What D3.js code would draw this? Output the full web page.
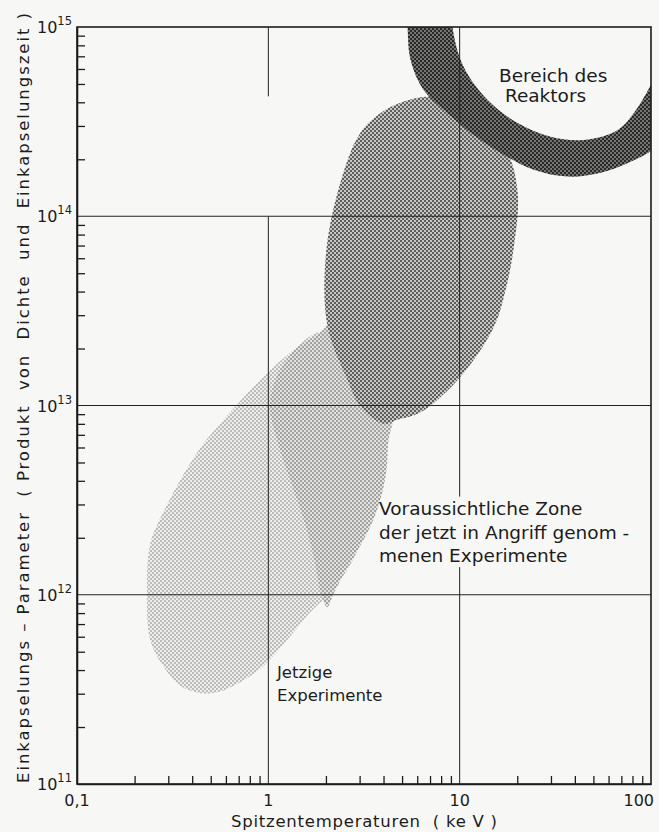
<!DOCTYPE html>
<html>
<head>
<meta charset="utf-8">
<script src="https://cdn.jsdelivr.net/npm/d3@7"></script>
<style>
  body { margin: 0; background: #f7f7f5; }
  svg { display: block; }
  text { font-family: "DejaVu Sans", sans-serif; fill: #1c1c1c; white-space: pre; }
</style>
</head>
<body>
<svg id="chart" width="659" height="832"></svg>
<script>
// axis values
const xMajor = [0.1, 1, 10, 100];
const xMajorLabels = ["0,1", "1", "10", "100"];
const yMajor = [1e11, 1e12, 1e13, 1e14, 1e15];
const yExponents = ["11", "12", "13", "14", "15"];
const minorSteps = [2, 3, 4, 5, 6, 7, 8, 9];
const hGrid = [1e12, 1e13, 1e14];
// vertical grid lines [keV, from, to] (they are broken in the original)
const vGrid = [[1, 1e11, 1e14], [1, 4.3e14, 1e15], [10, 1e11, 1.4e12], [10, 3.3e12, 1e15]];

// zones, [keV, n*tau]
const jetzigeZone = [
  [0.441, 3.02e11], [0.541, 3.05e11], [0.713, 3.45e11], [0.942, 4.2e11], [1.26, 5.8e11],
  [1.66, 8.1e11], [2.11, 1.03e12], [2.69, 1.45e12], [3.22, 2.2e12], [3.63, 4.1e12],
  [3.42, 8.4e12], [2.69, 1.75e13], [2.11, 2.37e13], [1.81, 2.43e13], [1.30, 1.9e13],
  [0.942, 1.42e13], [0.632, 9.2e12], [0.425, 5.65e12], [0.282, 2.72e12], [0.241, 1.85e12],
  [0.232, 1.03e12], [0.241, 5.8e11], [0.282, 4.2e11], [0.346, 3.3e11]
];
const voraussichtZone = [
  [2.03, 8.6e11], [2.19, 1.01e12], [2.47, 1.28e12], [2.85, 1.64e12], [3.42, 2.3e12],
  [3.86, 3.2e12], [4.15, 4.6e12], [4.25, 6.6e12], [4.51, 8.4e12], [4.91, 1.37e13],
  [4.62, 2.84e13], [3.42, 4.35e13], [2.38, 3.62e13], [1.94, 2.52e13], [1.38, 1.97e13],
  [1.09, 1.37e13], [1.02, 9.9e12], [1.11, 6.6e12], [1.30, 4.06e12], [1.56, 2.36e12],
  [1.76, 1.45e12], [1.88, 1.02e12]
];
const upperZone = [
  [7.05, 4.27e14], [10.1, 3.74e14], [17.4, 2.24e14], [20.1, 1.33e14], [19.2, 6.9e13],
  [17.4, 4.1e13], [15.1, 2.61e13], [10.1, 1.42e13], [6.25, 9.2e12], [4.73, 8.4e12],
  [4.0, 8.0e12], [3.03, 9.9e12], [2.59, 1.37e13], [2.04, 2.61e13], [1.99, 5.9e13],
  [2.30, 1.33e14], [3.03, 2.76e14], [4.10, 3.65e14], [5.6, 4.15e14]
];
const reactorOuter = [
  [5.3, 1.6e15], [5.35, 9.6e14], [5.54, 6.7e14], [6.48, 4.65e14], [8.25, 3.65e14],
  [11.4, 2.76e14], [16.4, 2.16e14], [24.4, 1.76e14], [36.7, 1.62e14], [54.7, 1.70e14],
  [75.8, 1.91e14], [102, 2.24e14], [130, 2.8e14]
];
const reactorInner = [
  [9.1, 1.6e15], [9.2, 9.8e14], [10.5, 6.15e14], [14.0, 4.12e14], [20.1, 3.11e14],
  [29.9, 2.63e14], [44.6, 2.53e14], [67.1, 2.86e14], [81.5, 3.52e14], [102, 5.13e14],
  [120, 7.1e14]
];

const svg = d3.select("#chart");

const x = d3.scaleLog().domain([0.1, 100]).range([77, 651]);
const y = d3.scaleLog().domain([1e11, 1e15]).range([784, 27]);

// halftone-ish fills
const defs = svg.append("defs");
function halftone(id, bg, dot) {
  const p = defs.append("pattern").attr("id", id)
    .attr("patternUnits", "userSpaceOnUse").attr("width", 4).attr("height", 4);
  p.append("rect").attr("width", 4).attr("height", 4).attr("fill", bg);
  p.append("rect").attr("width", 2).attr("height", 2).attr("fill", dot);
  p.append("rect").attr("x", 2).attr("y", 2).attr("width", 2).attr("height", 2).attr("fill", dot);
}
halftone("hLight", "#eeeeec", "#bcbcba");
halftone("hMid", "#e2e2e0", "#a2a2a0");
halftone("hDark", "#c6c6c4", "#5e5e5c");
halftone("hRing", "#747472", "#2a2a28");

defs.append("clipPath").attr("id", "plotClip")
  .append("rect")
  .attr("x", x(0.1)).attr("y", y(1e15))
  .attr("width", x(100) - x(0.1)).attr("height", y(1e11) - y(1e15));

const closed = d3.line().x(d => x(d[0])).y(d => y(d[1])).curve(d3.curveCatmullRomClosed.alpha(0.5));
const open = d3.line().x(d => x(d[0])).y(d => y(d[1])).curve(d3.curveCatmullRom.alpha(0.5));

const zones = svg.append("g").attr("clip-path", "url(#plotClip)");
zones.append("path").attr("d", closed(jetzigeZone)).attr("fill", "url(#hLight)");
zones.append("path").attr("d", closed(voraussichtZone)).attr("fill", "url(#hMid)");
zones.append("path").attr("d", closed(upperZone)).attr("fill", "url(#hDark)");
const ringPath = open(reactorOuter) + "L" + open(reactorInner.slice().reverse()).slice(1) + "Z";
zones.append("path").attr("d", ringPath).attr("fill", "url(#hRing)");

// grid
const grid = svg.append("g").attr("stroke", "#222").attr("stroke-width", 1);
grid.selectAll("line.h").data(hGrid).enter().append("line").attr("class", "h")
  .attr("x1", x(0.1)).attr("x2", x(100))
  .attr("y1", d => y(d)).attr("y2", d => y(d));
grid.selectAll("line.v").data(vGrid).enter().append("line").attr("class", "v")
  .attr("x1", d => x(d[0])).attr("x2", d => x(d[0]))
  .attr("y1", d => y(d[1])).attr("y2", d => y(d[2]));

// axes with inward minor ticks
const xMinor = [];
xMajor.slice(0, -1).forEach(d => minorSteps.forEach(k => xMinor.push(d * k)));
const yMinor = [];
yMajor.slice(0, -1).forEach(d => minorSteps.forEach(k => yMinor.push(d * k)));

const xAxis = svg.append("g")
  .attr("transform", "translate(0," + y(1e11) + ")")
  .call(d3.axisBottom(x).tickValues(xMinor).tickSize(-8).tickSizeOuter(0).tickFormat(""));
const yAxis = svg.append("g")
  .attr("transform", "translate(" + x(0.1) + ",0)")
  .call(d3.axisLeft(y).tickValues(yMinor).tickSize(-8).tickSizeOuter(0).tickFormat(""));
[xAxis, yAxis].forEach(a => {
  a.selectAll("path.domain").attr("stroke", "#1c1c1c").attr("stroke-width", 1.6);
  a.selectAll(".tick line").attr("stroke", "#1c1c1c").attr("stroke-width", 1.3);
});

// frame
svg.append("rect")
  .attr("x", x(0.1)).attr("y", y(1e15))
  .attr("width", x(100) - x(0.1)).attr("height", y(1e11) - y(1e15))
  .attr("fill", "none").attr("stroke", "#1c1c1c").attr("stroke-width", 1.6);

// tick labels
svg.selectAll("text.xl").data(xMajor).enter().append("text").attr("class", "xl")
  .attr("x", (d, i) => i === xMajor.length - 1 ? x(d) + 3 : x(d))
  .attr("y", 806)
  .attr("text-anchor", (d, i) => i === xMajor.length - 1 ? "end" : "middle")
  .style("font-size", "16px")
  .text((d, i) => xMajorLabels[i]);

const yl = svg.selectAll("text.yl").data(yMajor).enter().append("text").attr("class", "yl")
  .attr("x", 72).attr("y", d => y(d) + 6)
  .attr("text-anchor", "end")
  .style("font-size", "16px");
yl.append("tspan").text("10");
yl.append("tspan").attr("dy", -8).style("font-size", "11.5px").text((d, i) => yExponents[i]);

// axis titles
svg.append("text")
  .attr("x", 231).attr("y", 827)
  .attr("textLength", 266).attr("lengthAdjust", "spacing")
  .style("font-size", "16.5px")
  .text("Spitzentemperaturen  ( ke V )");

svg.append("text")
  .attr("transform", "translate(29,398) rotate(-90)")
  .attr("text-anchor", "middle")
  .attr("textLength", 770).attr("lengthAdjust", "spacing")
  .style("font-size", "16.5px")
  .text("Einkapselungs – Parameter  ( Produkt  von  Dichte  und  Einkapselungszeit )");

// zone labels
function label(lines, x0, y0, dy, size) {
  const t = svg.append("text").style("font-size", size + "px");
  lines.forEach((s, i) => t.append("tspan").attr("x", x0).attr("y", y0 + i * dy).text(s));
}
label(["Bereich des", " Reaktors"], 499, 82, 19.5, 18.5);
label(["Voraussichtliche Zone", "der jetzt in Angriff genom -", "menen Experimente"], 379, 515, 23.5, 18.5);
label(["Jetzige", "Experimente"], 277, 678, 23, 16.5);
</script>
</body>
</html>
